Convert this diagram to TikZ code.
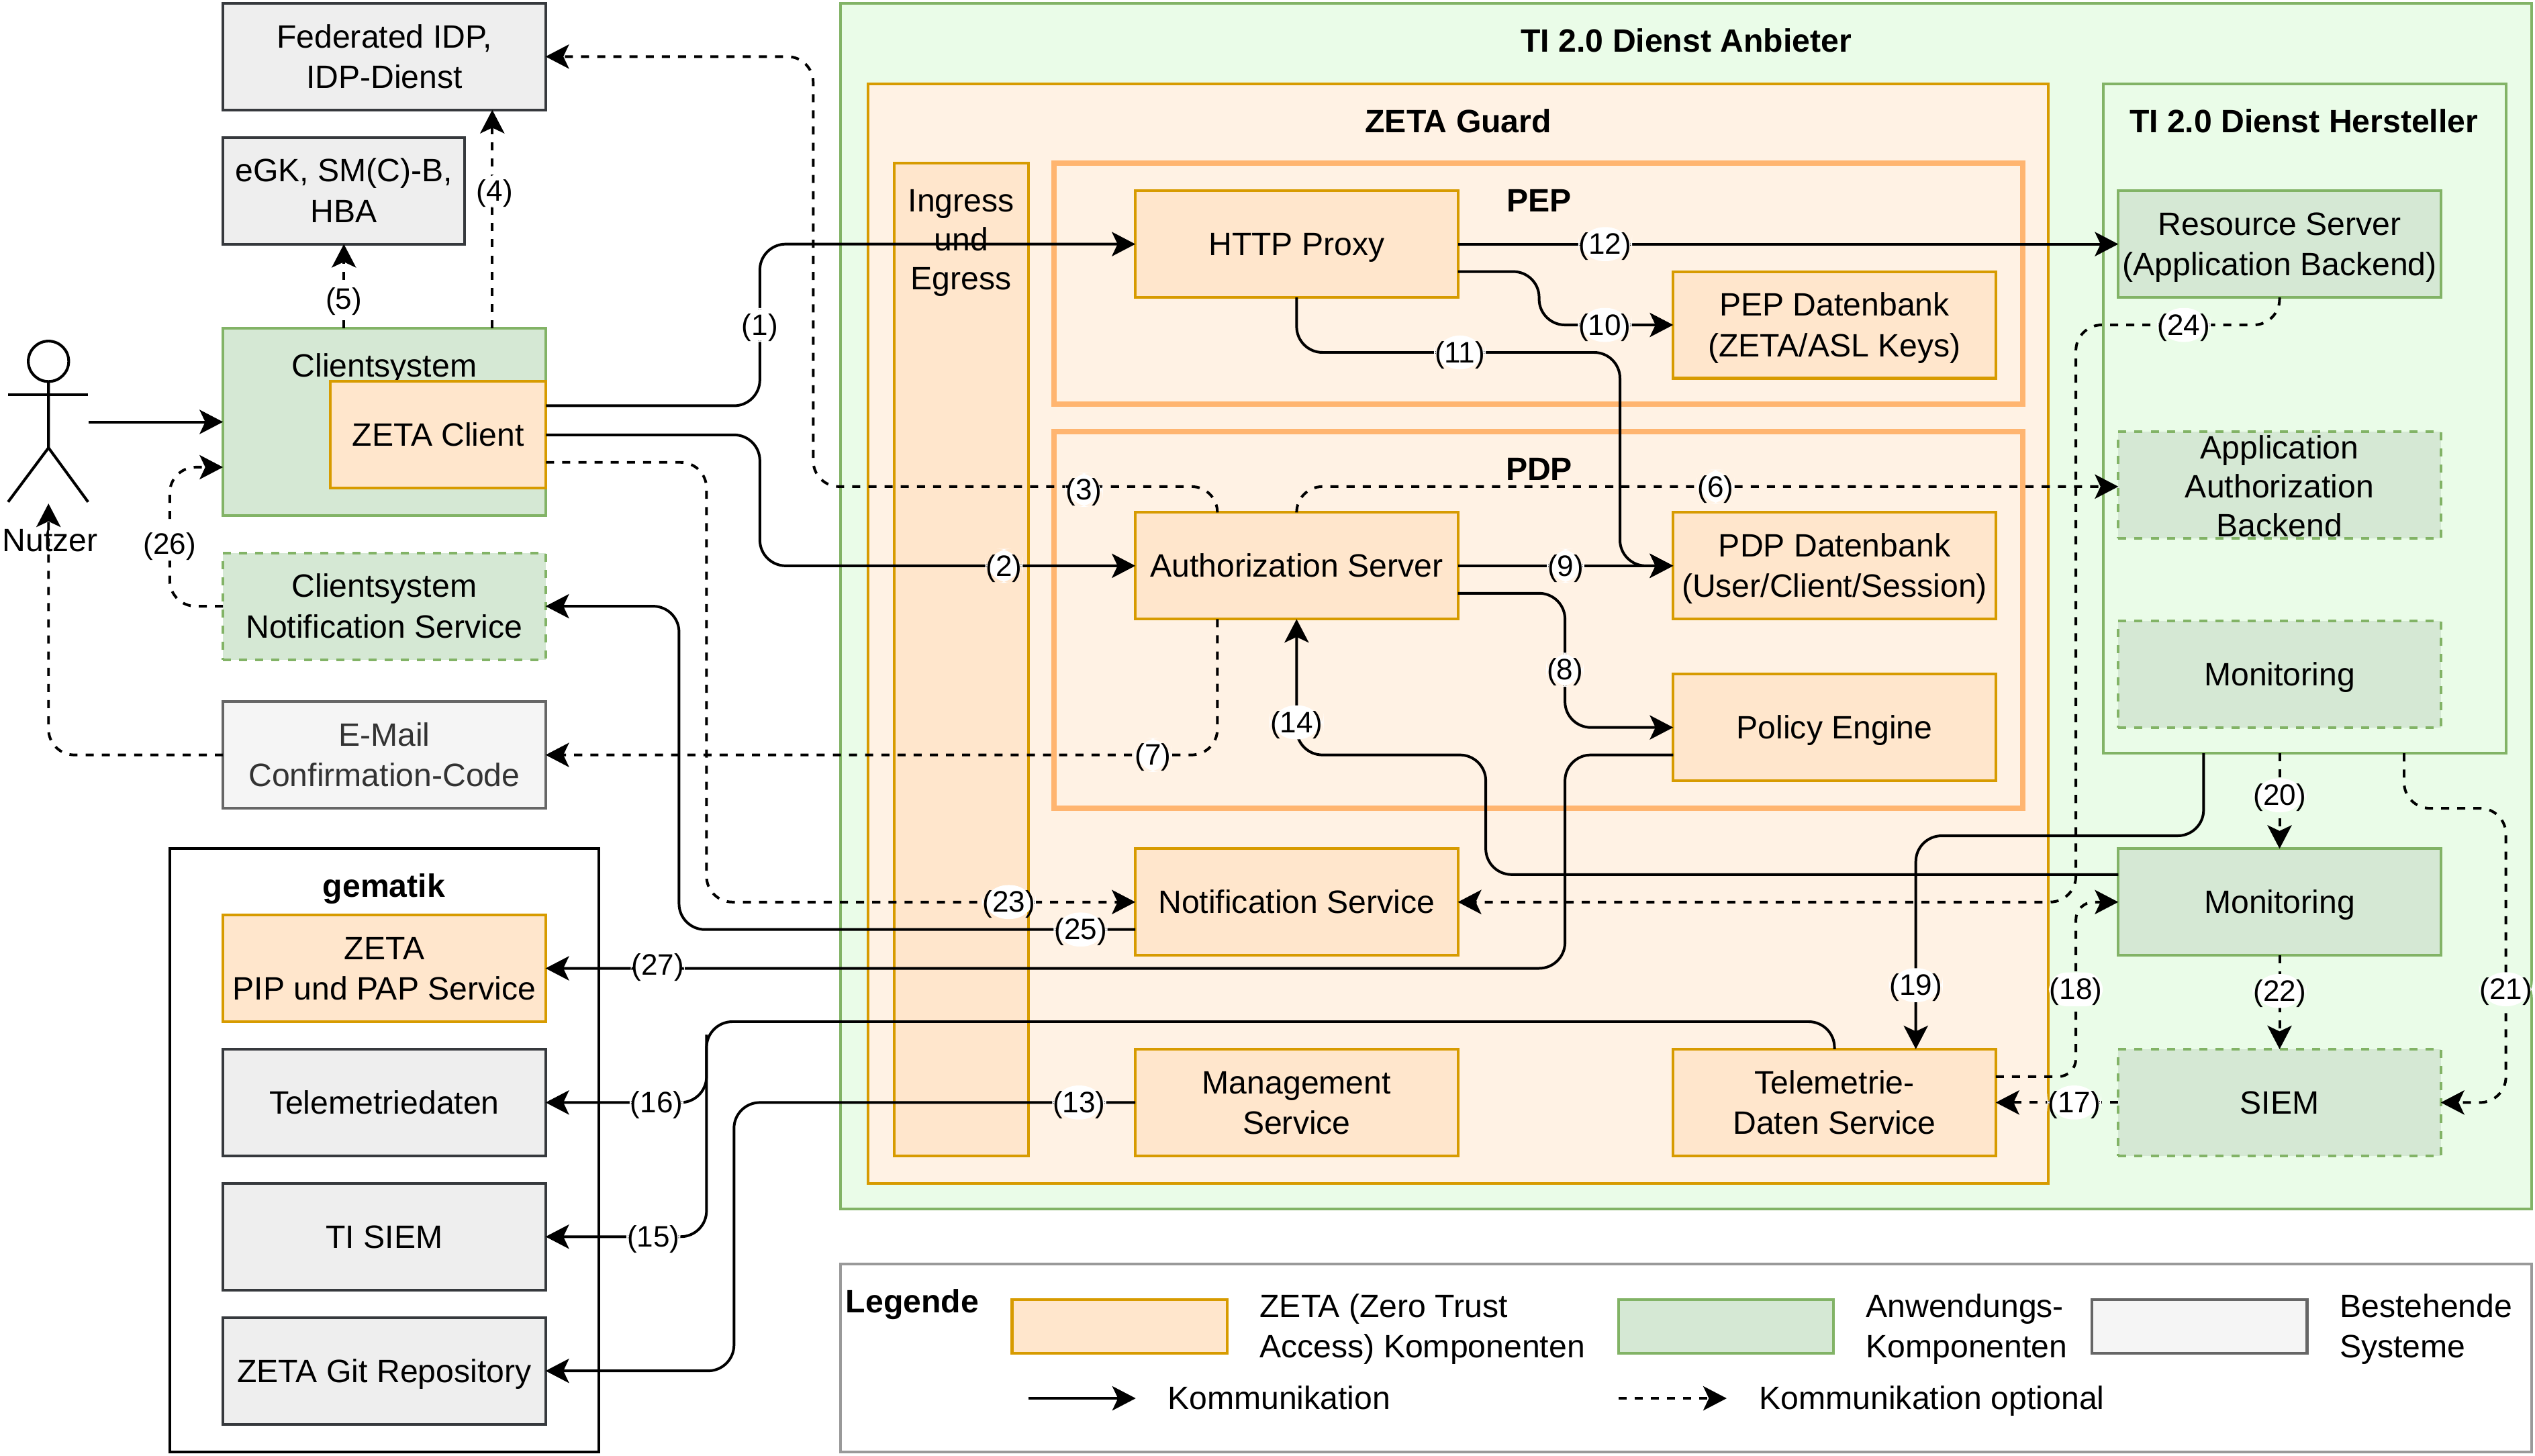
\documentclass[tikz,border=0pt]{standalone}
\usepackage{fontspec}
\setmainfont{Liberation Sans}
\usetikzlibrary{arrows.meta}
\definecolor{zetafill}{HTML}{FFE6CC}
\definecolor{zetaline}{HTML}{D79B00}
\definecolor{guardfill}{HTML}{FFF2E4}
\definecolor{peplines}{HTML}{FFB570}
\definecolor{appfill}{HTML}{D5E8D4}
\definecolor{appline}{HTML}{82B366}
\definecolor{anbieterfill}{HTML}{EAFCE8}
\definecolor{grayfill}{HTML}{EEEEEE}
\definecolor{grayline}{HTML}{36393D}
\newcommand{\linestrut}{\rule[-5.5pt]{0pt}{25pt}}
\newcommand{\numstrut}{\rule[-4.2pt]{0pt}{21pt}}
\tikzset{
  struts/.style={execute at begin node=\linestrut},
  multi/.style={execute at begin node=\rule{0pt}{44.5pt}},
  triple/.style={execute at begin node=\rule{0pt}{68.5pt}},
  box/.style={draw,line width=1.7pt,inner sep=0pt,outer sep=0pt,align=center,minimum width=199.5pt,minimum height=66pt,font=\fontsize{20}{25}\selectfont,struts},
  zetabox/.style={box,fill=zetafill,draw=zetaline},
  appbox/.style={box,fill=appfill,draw=appline},
  optbox/.style={appbox,dash pattern=on 5pt off 5pt},
  oldbox/.style={box,fill=grayfill,draw=grayline},
  mailbox/.style={box,fill=black!4,draw=black!60,text=black!80},
  area/.style={draw,line width=1.7pt,outer sep=0pt},
  title/.style={font=\fontsize{20}{25}\selectfont\bfseries,inner sep=0pt,struts},
  plain/.style={font=\fontsize{20}{25}\selectfont,inner sep=0pt,align=left,struts},
  flow/.style={line width=1.65pt,rounded corners=16pt,-{Stealth[length=14.5pt,width=15pt,inset=3.5pt]}},
  flowdash/.style={flow,dash pattern=on 5pt off 5pt},
  num/.style={fill=white,inner ysep=0pt,inner xsep=.4pt,font=\fontsize{18.3}{21}\selectfont,execute at begin node=\numstrut}
}
\begin{document}
\begin{tikzpicture}[x=1pt,y=-1pt]
\useasboundingbox (0,0) rectangle (1568,900.35);
\draw[area,fill=anbieterfill,draw=appline] (520,2) rectangle (1566,748);
\draw[area,fill=guardfill,draw=zetaline] (537,52) rectangle (1267,732);
\draw[area,fill=zetafill,draw=zetaline] (553,101) rectangle (636,715);
\draw[area,line width=3.3pt,draw=peplines] (652,101) rectangle (1251,250);
\draw[area,line width=3.3pt,draw=peplines] (652,267) rectangle (1251,500);
\draw[area,draw=appline] (1301,52) rectangle (1550,466);
\draw[area] (105,525) rectangle (370.5,898);
\draw[area,draw=black!40,fill=white] (520,782) rectangle (1566,898);
\node[title] (anbietertitle) at (1043,25) {TI 2.0 Dienst Anbieter};
\node[title] (guardtitle) at (902,75) {ZETA Guard};
\node[title] (peptitle) at (952,124) {PEP};
\node[title] (pdptitle) at (952,290) {PDP};
\node[title] (herstellertitle) at (1425,75) {TI 2.0 Dienst Hersteller};
\node[title] (gematiktitle) at (237.5,548) {gematik};
\node[plain,triple,align=center] (ingress) at (594.5,147.5) {Ingress\\[-1pt]und\\[-1pt]Egress};
\node[oldbox,multi] (idp) at (237.7,35) {Federated IDP,\\IDP-Dienst};
\node[oldbox,multi,minimum width=149.5pt] (egk) at (212.7,118) {eGK, SM(C)-B,\\HBA};
\node[appbox,minimum height=116pt] (clientsys) at (237.7,261) {};
\node[plain] (clientsystitle) at (237.7,226) {Clientsystem};
\node[zetabox,minimum width=133.5pt] (zclient) at (271,269) {ZETA Client};
\node[optbox,multi] (clientnotif) at (237.7,375) {Clientsystem\\Notification Service};
\node[mailbox,multi] (mail) at (237.7,467) {E-Mail\\Confirmation-Code};
\node[zetabox,multi] (pip) at (237.7,599) {ZETA\\PIP und PAP Service};
\node[oldbox] (teledaten) at (237.7,682) {Telemetriedaten};
\node[oldbox] (tisiem) at (237.7,765) {TI SIEM};
\node[oldbox] (git) at (237.7,848) {ZETA Git Repository};
\node[zetabox] (proxy) at (802,151) {HTTP Proxy};
\node[zetabox,multi] (pepdb) at (1134.7,201) {PEP Datenbank\\(ZETA/ASL Keys)};
\node[zetabox] (authserver) at (802,350) {Authorization Server};
\node[zetabox,multi] (pdpdb) at (1134.7,350) {PDP Datenbank\\(User/Client/Session)};
\node[zetabox] (policy) at (1134.7,450) {Policy Engine};
\node[zetabox] (notif) at (802,558) {Notification Service};
\node[zetabox,multi] (mgmt) at (802,682) {Management\\Service};
\node[zetabox,multi] (teleservice) at (1134.7,682) {Telemetrie-\\Daten Service};
\node[appbox,multi] (resource) at (1410,151) {Resource Server\\(Application Backend)};
\node[optbox] (appauth) at (1410,300) {};
\node[plain,triple,align=center] (appauthtext) at (1410,300.5) {Application\\[-1pt]Authorization\\[-1pt]Backend};
\node[optbox] (monopt) at (1410,417) {Monitoring};
\node[appbox] (monitor) at (1410,558) {Monitoring};
\node[optbox] (siem) at (1410,682) {SIEM};
% Nutzer
\node[draw,circle,line width=1.7pt,minimum size=25pt,inner sep=0pt,outer sep=0pt] (nutzerhead) at (30,223.5) {};
\draw[line width=1.7pt] (nutzerhead.south) -- (30,277) -- (5,310.5);
\draw[line width=1.7pt] (30,277) -- (54.5,310.5);
\draw[line width=1.7pt] (5,244) -- (54.5,244);
\node[plain] (nutzer) at (31,334) {Nutzer};
\coordinate (nutzerhand) at (55,261);
\coordinate (nutzerfoot) at (30,311.5);
% Verbindungen
\draw[flow] (nutzerhand) -- (clientsys.west |- nutzerhand);
\draw[flow] (zclient.east |- 0,251) -- (470,251) -- node[num,pos=.5] (n1) {(1)} (470,151) -- (proxy.west);
\draw[flow] (zclient.east) -- (470,269) -- (470,350) -- node[num,pos=.65] (n2) {(2)} (authserver.west);
\draw[flowdash] (authserver.north -| 753,0) -- (753,301) -- node[num,pos=.33,yshift=-2pt] (n3) {(3)} (503,301) -- (503,35) -- (idp.east);
\draw[flowdash] (clientsys.north -| 304.5,0) -- node[num,pos=.63,xshift=1.5pt] (n4) {(4)} (idp.south -| 304.5,0);
\draw[flowdash] (egk.south |- clientsys.north) -- node[num,pos=.35] (n5) {(5)} (egk.south);
\draw[flowdash] (authserver.north) -- (802,301) -- node[num,pos=.51] (n6) {(6)} (appauth.west |- 0,301);
\draw[flowdash] (authserver.south -| 753,0) -- (753,467) -- node[num,pos=.096] (n7) {(7)} (mail.east);
\draw[flow] (authserver.east |- 0,367) -- (968,367) -- node[num,pos=.57] (n8) {(8)} (968,450) -- (policy.west);
\draw[flow] (authserver.east) -- node[num,pos=.5] (n9) {(9)} (pdpdb.west);
\draw[flow] (proxy.east |- 0,168) -- (952,168) -- (952,201) -- node[num,pos=.49] (n10) {(10)} (pepdb.west);
\draw[flow] (proxy.south) -- (802,218) -- node[num,pos=.505] (n11) {(11)} (1002,218) -- (1002,350) -- (pdpdb.west);
\draw[flow] (proxy.east) -- node[num,pos=.223] (n12) {(12)} (resource.west);
\draw[flow] (mgmt.west) -- node[num,pos=.14] (n13) {(13)} (454,682) -- (454,848) -- (git.east);
\draw[flow] (monitor.west |- 0,541) -- (919,541) -- (919,467) -- (802,467) -- node[num,pos=.24] (n14) {(14)} (authserver.south);
\draw[flow] (teleservice.north) -- (1134.7,632) -- (437,632) -- (437,765) -- node[num,pos=.33] (n15) {(15)} (tisiem.east);
\draw[flow] (437,640) -- (437,682) -- node[num,pos=.31] (n16) {(16)} (teledaten.east);
\draw[flowdash] (siem.west) -- node[num,pos=.36] (n17) {(17)} (teleservice.east);
\draw[flowdash,rounded corners=11pt] (teleservice.east |- 0,666) -- (1284,666) -- node[num,pos=.5] (n18) {(18)} (1284,558) -- (monitor.west);
\draw[flow] (1363,466) -- (1363,517) -- (1185,517) -- node[num,pos=.7] (n19) {(19)} (teleservice.north -| 1185,0);
\draw[flowdash] (monitor.north |- 0,466) -- node[num,pos=.44] (n20) {(20)} (monitor.north);
\draw[flowdash] (1487,466) -- (1487,500) -- (1550,500) -- node[num,pos=.615] (n21) {(21)} (1550,682) -- (siem.east);
\draw[flowdash] (monitor.south) -- node[num,pos=.38] (n22) {(22)} (siem.north);
\draw[flowdash] (zclient.east |- 0,286) -- (437,286) -- (437,558) -- node[num,pos=.705] (n23) {(23)} (notif.west);
\draw[flowdash] (resource.south) -- (1410,201) -- node[num,pos=.47] (n24) {(24)} (1284,201) -- (1284,558) -- (notif.east);
\draw[flow] (notif.west |- 0,575) -- node[num,pos=.12] (n25) {(25)} (420,575) -- (420,375) -- (clientnotif.east);
\draw[flowdash] (clientnotif.west) -- (105,375) -- node[num,pos=.45] (n26) {(26)} (105,289) -- (clientsys.west |- 0,289);
\draw[flow] (policy.west |- 0,467) -- (968,467) -- (968,599) -- node[num,pos=.89,yshift=2pt] (n27) {(27)} (pip.east);
\draw[flowdash] (mail.west) -- (30,467) -- (nutzerfoot);
% Legende
\node[title,anchor=west] (legende) at (523,805) {Legende};
\node[zetabox,minimum width=133pt,minimum height=33pt] (legzeta) at (692.5,820.5) {};
\node[plain,multi,anchor=west] (legzetatext) at (779,820.5) {ZETA (Zero Trust\\Access) Komponenten};
\node[appbox,minimum width=133pt,minimum height=33pt] (legapp) at (1067.5,820.5) {};
\node[plain,multi,anchor=west] (legapptext) at (1154,820.5) {Anwendungs-\\Komponenten};
\node[mailbox,minimum width=133pt,minimum height=33pt] (legold) at (1360.5,820.5) {};
\node[plain,multi,anchor=west] (legoldtext) at (1447,820.5) {Bestehende\\Systeme};
\coordinate (legflowa) at (636,865);
\coordinate (legflowb) at (702.5,865);
\coordinate (legdasha) at (1001,865);
\coordinate (legdashb) at (1068,865);
\draw[flow] (legflowa) -- (legflowb);
\draw[flowdash] (legdasha) -- (legdashb);
\node[plain,anchor=west] (legflow) at (722,865) {Kommunikation};
\node[plain,anchor=west] (legdash) at (1088,865) {Kommunikation optional};
\end{tikzpicture}
\end{document}
